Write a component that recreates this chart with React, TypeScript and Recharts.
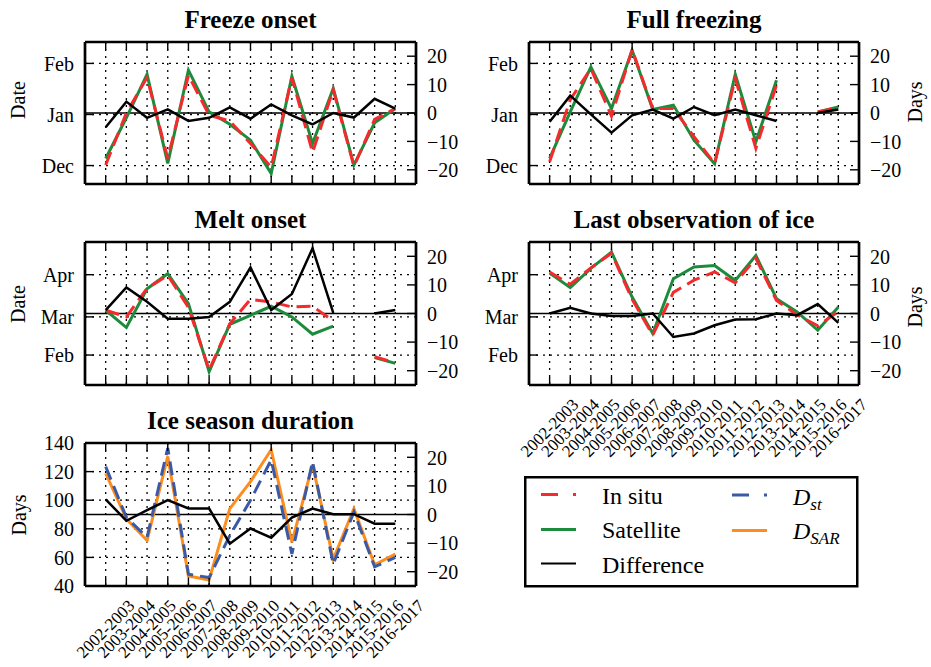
import React from "react";
import { LineChart, Line, XAxis, YAxis, CartesianGrid, ReferenceLine } from "recharts";

const seasons = [
  "2002-2003", "2003-2004", "2004-2005", "2005-2006", "2006-2007",
  "2007-2008", "2008-2009", "2009-2010", "2010-2011", "2011-2012",
  "2012-2013", "2013-2014", "2014-2015", "2015-2016", "2016-2017",
];

// freeze dates in days from 1 Jan, melt dates in days from 1 Mar, differences in days
const freezeOnsetInSitu = [-30.7, 1, 22.4, -26.7, 23.8, -0.4, -4, -17.6, -32, 22.4, -23, 15, -31.5, -3, 3.6];
const freezeOnsetSatellite = [-26.7, -2, 24.4, -29.7, 26.9, 1.6, -5.9, -15.6, -35.8, 23.2, -17.6, 15.8, -30.7, -5, 3.6];
const freezeOnsetDiff = [-5, 4, -1.7, 1.3, -2.8, -1.7, 2, -2, 3, -0.8, -4, 0, -1.6, 5, 1.5];

const fullFreezingInSitu = [-28.7, 9, 27.9, -1, 39.4, 3.6, 3.6, -13.5, -29.7, 21.8, -20.6, 17.8, null, 1.6, 4.2];
const fullFreezingSatellite = [-26.7, 1.6, 28.9, 3.6, 39, 3, 5.7, -15.6, -30, 24.4, -16.6, 20.8, null, 1.6, 4.6];
const fullFreezingDiff = [-3.1, 6.1, -0.5, -6.9, -0.8, 1.2, -2, 2.1, -0.8, 1.2, -0.8, -2.8, null, 0, 1.2];

const meltOnsetInSitu = [4.9, 0, 21, 30.5, 7, -39, -5, 12.9, 11, 7.3, 7.8, -3, null, -29.3, -33.7];
const meltOnsetSatellite = [4.9, -7.8, 20.7, 31.7, 9.8, -40.2, -5.4, 1.2, 7.8, 0, -12.7, -6.8, null, -29.8, -34.1];
const meltOnsetDiff = [1.2, 9.1, 4.1, -1.8, -1.8, -1.2, 4.1, 16.1, 1.2, 6.8, 22.8, 0.2, null, 0, 1.2];

const lastIceInSitu = [32.9, 24, 36, 46.8, 13, -13.4, 18, 27, 33, 25, 43, 12, 1.5, -6.5, 4];
const lastIceSatellite = [32.2, 21.5, 35.6, 47.6, 14.6, -12.2, 28, 36.6, 37.8, 26.8, 45.1, 13.4, 3.7, -9.8, 7.3];
const lastIceDiff = [0, 2, 0, -0.9, -0.9, 0, -8.2, -7, -4.1, -2.1, -2, 0, -0.6, 3.3, -3.3];

const durationSt = [123.5, 88, 74, 136.5, 48.2, 45.9, 75.3, 100, 128.2, 62.4, 127, 55.3, 91.8, 53.4, 60];
const durationSar = [118.8, 87, 71.8, 130.6, 47, 44.2, 94.1, 113, 135.3, 70.6, 124.7, 58.8, 94.1, 54.8, 62.4];
const durationDiff = [5.3, -2.2, 1.5, 5, 2.1, 2.1, -10.2, -4.9, -8.1, -1.1, 2.1, 0.1, 0.1, -3.2, -3.2];

const freezeTicks = [-31, 0, 31];
const freezeTickNames = ["Dec", "Jan", "Feb"];
const meltTicks = [-28, 0, 31];
const meltTickNames = ["Feb", "Mar", "Apr"];
const durationTicks = [40, 60, 80, 100, 120, 140];
const diffTicks = [-20, -10, 0, 10, 20];

const RED = "#f42a2c";
const GREEN = "#1c8b3b";
const BLUE = "#3b5aa6";
const ORANGE = "#fc8d1e";
const FONT = "'Liberation Serif', 'Times New Roman', 'DejaVu Serif', serif";
const DASH = "14 7";

type Series = {
  key: string;
  values: (number | null)[];
  color: string;
  dash?: string;
  axis: "left" | "right";
  width: number;
};

type PanelProps = {
  left: number;
  top: number;
  w: number;
  h: number;
  series: Series[];
  leftDomain: [number, number];
  leftTicks: number[];
  leftNames?: string[];
  showLabels?: boolean;
};

const MT = 14;
const AW = 80;
const serif = { fontFamily: FONT };

function Panel({ left, top, w, h, series, leftDomain, leftTicks, leftNames, showLabels }: PanelProps) {
  const xh = showLabels ? 80 : 14;
  const pt = MT;
  const pb = MT + h;
  const pl = AW;
  const pr = AW + w;
  const idx = seasons.map((_, i) => i);
  const data = seasons.map((s, i) => {
    const row: Record<string, number | string | null> = { i, season: s };
    series.forEach((se) => (row[se.key] = se.values[i]));
    return row;
  });

  const xTick = (p: any) => {
    const cx = p.x;
    const cy = pb + 43;
    return (
      <g>
        <line x1={cx} x2={cx} y1={pb} y2={pb - 8} stroke="#000" strokeWidth={1.4} />
        <line x1={cx} x2={cx} y1={pt} y2={pt + 8} stroke="#000" strokeWidth={1.4} />
        {showLabels && (
          <text
            x={cx}
            y={cy}
            transform={`rotate(-45 ${cx} ${cy})`}
            textAnchor="middle"
            dominantBaseline="central"
            fontSize={17}
            style={serif}
            fill="#000"
          >
            {seasons[p.payload.value]}
          </text>
        )}
      </g>
    );
  };

  const leftTick = (p: any) => {
    const v = p.payload.value;
    const name = leftNames ? leftNames[leftTicks.indexOf(v)] : String(v);
    return (
      <g>
        <line x1={pl} x2={pl + 9} y1={p.y} y2={p.y} stroke="#000" strokeWidth={1.4} />
        <text x={pl - 11} y={p.y} dy="0.36em" textAnchor="end" fontSize={20} style={serif} fill="#000">
          {name}
        </text>
      </g>
    );
  };

  const rightTick = (p: any) => {
    const v = p.payload.value;
    return (
      <g>
        <line x1={pr} x2={pr - 9} y1={p.y} y2={p.y} stroke="#000" strokeWidth={1.4} />
        <text x={pr + 11} y={p.y} dy="0.36em" textAnchor="start" fontSize={20} style={serif} fill="#000">
          {v < 0 ? `\u2212${-v}` : v}
        </text>
      </g>
    );
  };

  return (
    <div style={{ position: "absolute", left: left - AW, top: top - MT }}>
      <LineChart
        width={AW + w + AW}
        height={MT + h + xh}
        data={data}
        margin={{ top: MT, right: 0, bottom: 0, left: 0 }}
      >
        <CartesianGrid yAxisId="left" stroke="#000" strokeWidth={1.3} strokeDasharray="2 5" />
        <XAxis
          dataKey="i"
          type="number"
          domain={[-1, 15]}
          ticks={idx}
          interval={0}
          tick={xTick}
          tickLine={false}
          axisLine={false}
          height={xh}
        />
        <YAxis
          yAxisId="left"
          orientation="left"
          width={AW}
          type="number"
          domain={leftDomain}
          ticks={leftTicks}
          interval={0}
          tick={leftTick}
          tickLine={false}
          axisLine={false}
        />
        <YAxis
          yAxisId="right"
          orientation="right"
          width={AW}
          type="number"
          domain={[-25, 25]}
          ticks={diffTicks}
          interval={0}
          tick={rightTick}
          tickLine={false}
          axisLine={false}
        />
        <ReferenceLine yAxisId="right" y={0} stroke="#000" strokeWidth={1.5} />
        {series.map((se) => (
          <Line
            key={se.key}
            yAxisId={se.axis}
            dataKey={se.key}
            stroke={se.color}
            strokeWidth={se.width}
            strokeDasharray={se.dash}
            dot={false}
            activeDot={false}
            isAnimationActive={false}
          />
        ))}
        <ReferenceLine yAxisId="right" x={-1} stroke="#000" strokeWidth={2.7} />
        <ReferenceLine yAxisId="right" x={15} stroke="#000" strokeWidth={2.7} />
        <ReferenceLine yAxisId="right" y={25} stroke="#000" strokeWidth={2.7} />
        <ReferenceLine yAxisId="right" y={-25} stroke="#000" strokeWidth={2.7} />
      </LineChart>
    </div>
  );
}

function dateSeries(inSitu: (number | null)[], sat: (number | null)[], diff: (number | null)[]): Series[] {
  return [
    { key: "sat", values: sat, color: GREEN, axis: "left", width: 3 },
    { key: "insitu", values: inSitu, color: RED, axis: "left", width: 3, dash: DASH },
    { key: "diff", values: diff, color: "#000", axis: "right", width: 2.5 },
  ];
}

const durationSeries: Series[] = [
  { key: "sar", values: durationSar, color: ORANGE, axis: "left", width: 3 },
  { key: "st", values: durationSt, color: BLUE, axis: "left", width: 3, dash: DASH },
  { key: "diff", values: durationDiff, color: "#000", axis: "right", width: 2.5 },
];

export default function App() {
  return (
    <div style={{ position: "absolute", left: 0, top: 0, width: 931, height: 667, background: "#fff" }}>
      <Panel left={85} top={42} w={331} h={142} series={dateSeries(freezeOnsetInSitu, freezeOnsetSatellite, freezeOnsetDiff)}
        leftDomain={[-42.2, 44]} leftTicks={freezeTicks} leftNames={freezeTickNames} />
      <Panel left={529} top={42} w={330} h={142} series={dateSeries(fullFreezingInSitu, fullFreezingSatellite, fullFreezingDiff)}
        leftDomain={[-42.2, 44]} leftTicks={freezeTicks} leftNames={freezeTickNames} />
      <Panel left={85} top={242} w={331} h={143} series={dateSeries(meltOnsetInSitu, meltOnsetSatellite, meltOnsetDiff)}
        leftDomain={[-50, 55]} leftTicks={meltTicks} leftNames={meltTickNames} />
      <Panel left={529} top={242} w={330} h={143} series={dateSeries(lastIceInSitu, lastIceSatellite, lastIceDiff)}
        leftDomain={[-50, 55]} leftTicks={meltTicks} leftNames={meltTickNames} showLabels />
      <Panel left={85} top={443} w={331} h={143} series={durationSeries}
        leftDomain={[40, 140]} leftTicks={durationTicks} showLabels />

      <svg width={931} height={667} style={{ position: "absolute", left: 0, top: 0, pointerEvents: "none", ...serif }}>
        <g fontSize={25} fontWeight="bold" textAnchor="middle" fill="#000">
          <text x={250.5} y={27.5}>Freeze onset</text>
          <text x={694} y={27.5}>Full freezing</text>
          <text x={250.5} y={228}>Melt onset</text>
          <text x={694} y={227.5}>Last observation of ice</text>
          <text x={250.5} y={428.5}>Ice season duration</text>
        </g>
        <g fontSize={20} textAnchor="middle" fill="#000">
          <text transform="translate(25 100) rotate(-90)">Date</text>
          <text transform="translate(25 304) rotate(-90)">Date</text>
          <text transform="translate(26 515) rotate(-90)">Days</text>
          <text transform="translate(921.5 102) rotate(-90)">Days</text>
          <text transform="translate(921.5 307) rotate(-90)">Days</text>
        </g>
        <rect x={525.25} y={477.25} width={332} height={109} fill="#fff" stroke="#000" strokeWidth={2.5} />
        <line x1={541} x2={576} y1={494.5} y2={494.5} stroke={RED} strokeWidth={3} strokeDasharray="17 15" />
        <line x1={541} x2={576} y1={529.5} y2={529.5} stroke={GREEN} strokeWidth={3} />
        <line x1={541} x2={576} y1={563.5} y2={563.5} stroke="#000" strokeWidth={1.8} />
        <line x1={732} x2={767} y1={495} y2={495} stroke={BLUE} strokeWidth={3} strokeDasharray="17 15" />
        <line x1={732} x2={767} y1={530.5} y2={530.5} stroke={ORANGE} strokeWidth={3} />
        <g fontSize={24} fill="#000">
          <text x={602} y={504}>In situ</text>
          <text x={602} y={538}>Satellite</text>
          <text x={602} y={572.5}>Difference</text>
          <text x={793} y={504.5} fontStyle="italic">
            D<tspan fontSize={17} dy={5}>st</tspan>
          </text>
          <text x={793} y={539} fontStyle="italic">
            D<tspan fontSize={17} dy={5}>SAR</tspan>
          </text>
        </g>
      </svg>
    </div>
  );
}
